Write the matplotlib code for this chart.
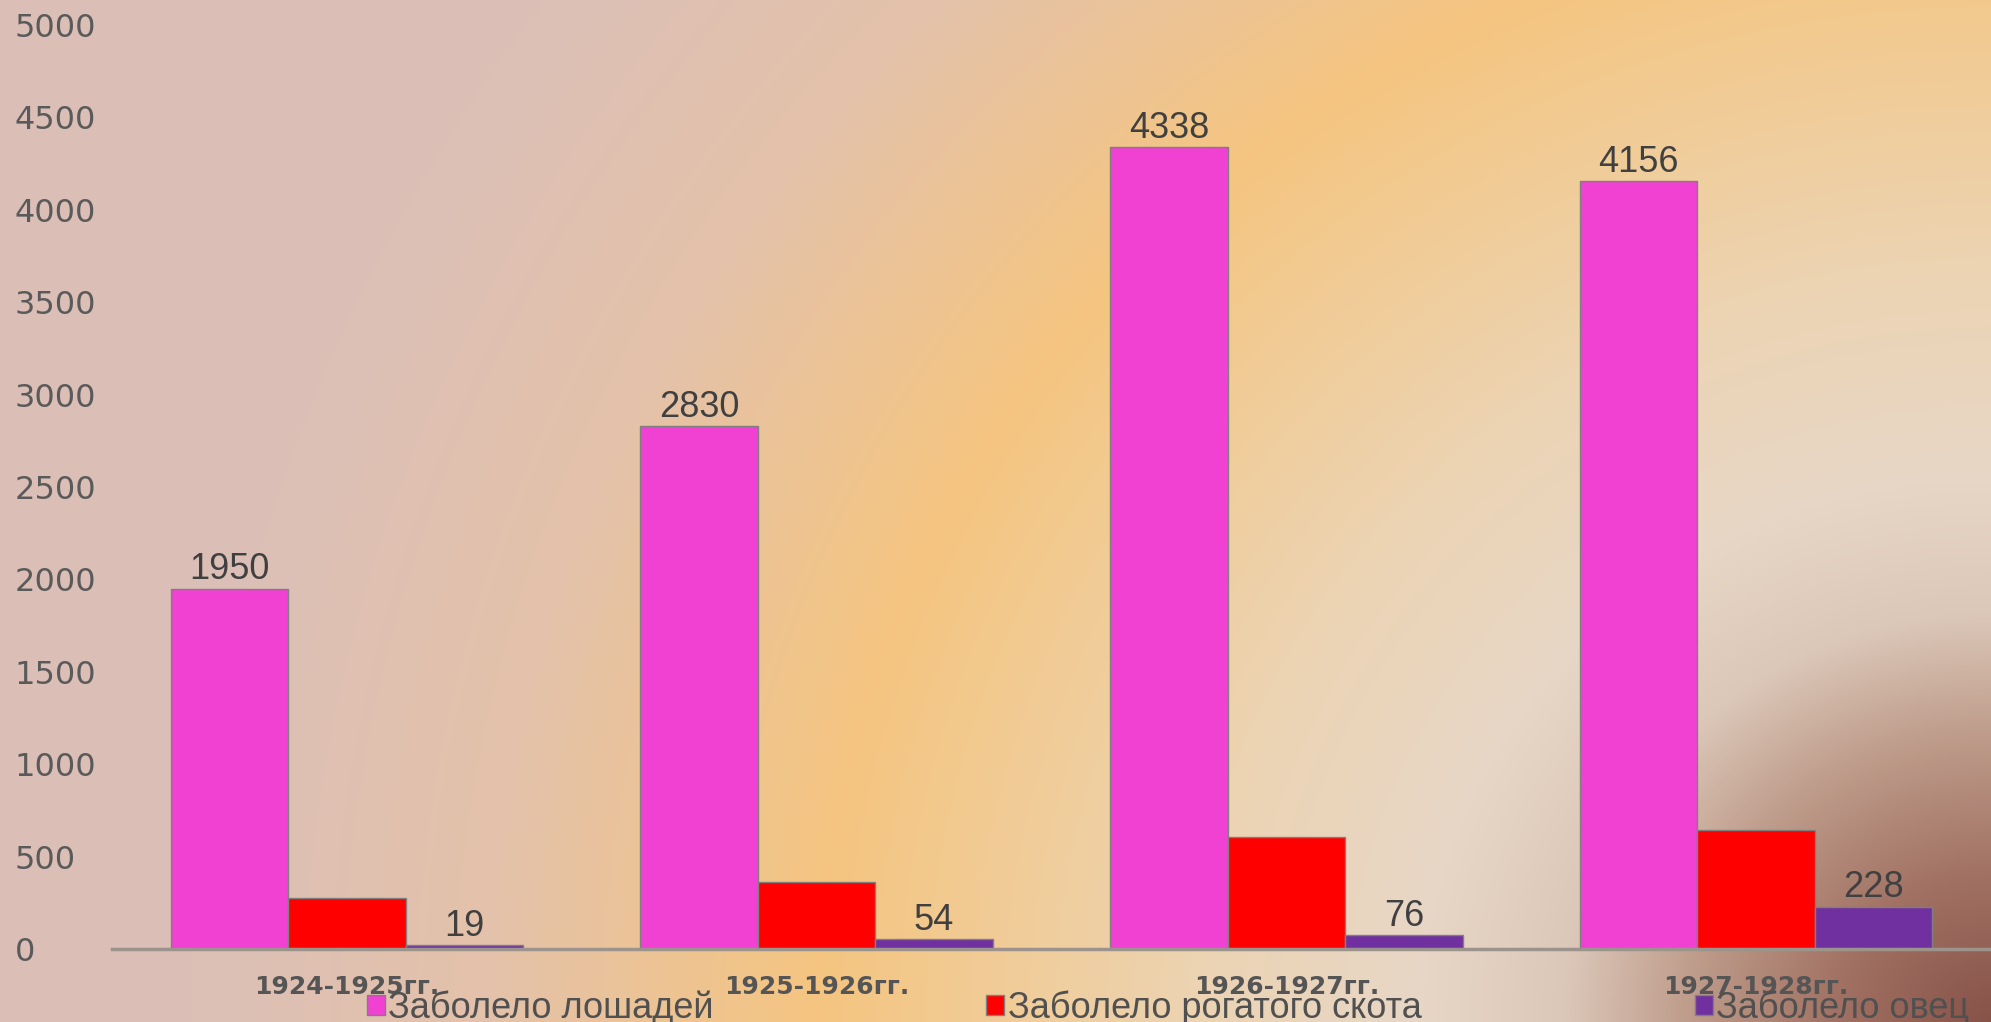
import numpy as np
import matplotlib.pyplot as plt

categories = ['1924-1925гг.', '1925-1926гг.', '1926-1927гг.', '1927-1928гг.']
horses = [1950, 2830, 4338, 4156]
cattle = [278, 360, 608, 645]
sheep = [19, 54, 76, 228]
series_names = ['Заболело лошадей', 'Заболело рогатого скота', 'Заболело овец']
colors = ['#F041D2', '#FF0000', '#7030A0']

W, H = 1991, 1022
fig = plt.figure(figsize=(W / 100, H / 100), dpi=100)

# background: radial gradient from the lower right corner
bg = fig.add_axes([0, 0, 1, 1], zorder=-1)
yy, xx = np.mgrid[0:H, 0:W]
d = np.hypot(xx - W, (yy - H) * 1.05)
stops = [0, 150, 300, 430, 580, 780, 1170, 1500, 1800, 2600]
stop_cols = np.array([
    (135, 82, 72), (160, 112, 98), (190, 155, 138), (220, 200, 185),
    (232, 215, 198), (236, 212, 180), (245, 197, 128), (228, 194, 170),
    (220, 192, 183), (219, 191, 184)]) / 255
img = np.dstack([np.interp(d, stops, stop_cols[:, c]) for c in range(3)])
bg.imshow(img, aspect='auto', extent=(0, 1, 0, 1), origin='upper')
bg.axis('off')

ax = fig.add_axes([112 / W, (H - 949) / H, 1 - 112 / W, (949 - 25) / H])
ax.set_facecolor('none')

x = np.arange(len(categories))
width = 0.25
handles = []
for i, (vals, name, col) in enumerate(zip([horses, cattle, sheep], series_names, colors)):
    b = ax.bar(x + (i - 1) * width, vals, width, color=col, label=name,
               edgecolor='#7f7f7f', linewidth=1, zorder=2)
    handles.append(b)
    if i != 1:
        for rect, v in zip(b, vals):
            ax.annotate(str(v), (rect.get_x() + rect.get_width() / 2, v),
                        xytext=(0, 1), textcoords='offset points',
                        ha='center', va='bottom', fontsize=26,
                        family='Liberation Sans', color='#404040')

ax.set_xlim(-0.5, len(categories) - 0.5)
ax.set_ylim(0, 5000)
ax.set_yticks(np.arange(0, 5001, 500))
ax.set_xticks(x)
ax.set_xticklabels(categories, fontsize=18, fontweight='bold',
                   family='DejaVu Sans', color='#555555')
for spine in ['top', 'right', 'left']:
    ax.spines[spine].set_visible(False)
ax.spines['bottom'].set_color('#9c948c')
ax.spines['bottom'].set_linewidth(2.5)
ax.tick_params(axis='both', length=0)
ax.tick_params(axis='x', pad=19)
ax.tick_params(axis='y', pad=70, labelsize=23, labelcolor='#5a5a5a')
for lab in ax.get_yticklabels():
    lab.set_horizontalalignment('left')
    lab.set_family('DejaVu Sans')

fig.legend(handles=handles, labels=series_names, loc='center',
           bbox_to_anchor=(1168 / W, (H - 1008) / H), ncol=3, frameon=False,
           prop={'family': 'Liberation Sans', 'size': 26},
           handlelength=0.5, handleheight=0.5, handletextpad=0.1,
           columnspacing=7.55, labelcolor='#505050')

fig.savefig('out.png', dpi=100)
